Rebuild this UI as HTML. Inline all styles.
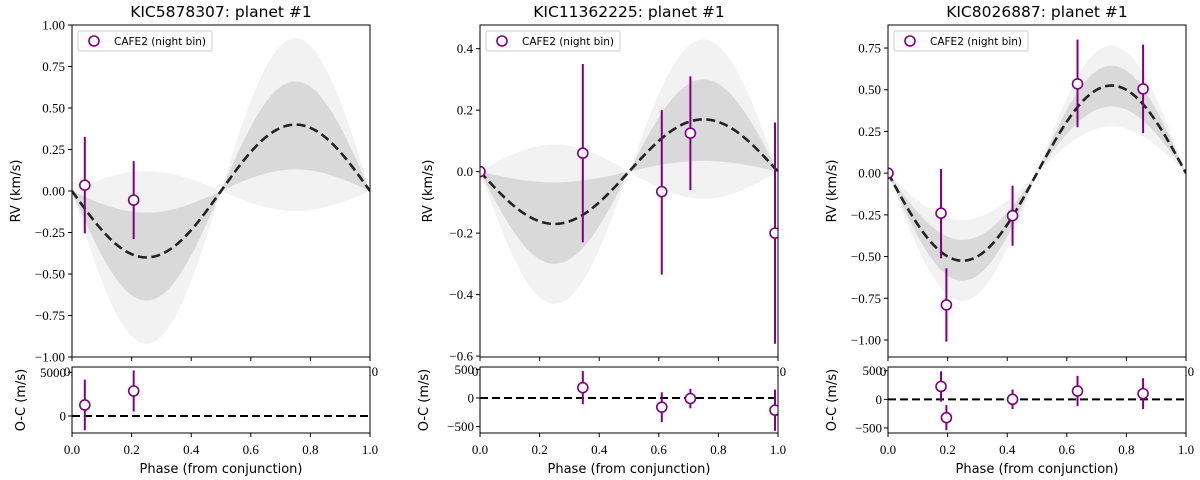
<!DOCTYPE html>
<html><head><meta charset="utf-8">
<style>
html,body{margin:0;padding:0;background:#fff;}
svg{display:block;}
.tick{font-family:"Liberation Serif","DejaVu Serif",serif;font-size:13px;fill:#000;}
.lab{font-family:"DejaVu Sans","Liberation Sans",sans-serif;font-size:13px;fill:#000;}
.title{font-family:"DejaVu Sans","Liberation Sans",sans-serif;font-size:15.5px;fill:#000;}
.leg{font-family:"DejaVu Sans","Liberation Sans",sans-serif;font-size:10.5px;fill:#000;}
</style></head>
<body>
<svg id="fig" width="1200" height="480" viewBox="0 0 1200 480" xmlns="http://www.w3.org/2000/svg"></svg>
<script>
// ---- data ----
const titles = ["KIC5878307: planet #1", "KIC11362225: planet #1", "KIC8026887: planet #1"];
const modelK = [0.40, 0.17, 0.525];
const band1Lo = [0.13, 0.035, 0.40];
const band1Hi = [0.66, 0.30, 0.645];
const band2Lo = [-0.12, -0.088, 0.28];
const band2Hi = [0.92, 0.43, 0.765];
const rvPhase = [[0.043, 0.207], [0.0, 0.345, 0.61, 0.706, 0.99], [0.0, 0.178, 0.196, 0.418, 0.636, 0.856]];
const rvValue = [[0.035, -0.055], [0.0, 0.06, -0.065, 0.125, -0.2], [0.0, -0.24, -0.79, -0.255, 0.535, 0.505]];
const rvErrUp = [[0.29, 0.235], [0, 0.29, 0.265, 0.185, 0.36], [0, 0.265, 0.22, 0.18, 0.265, 0.265]];
const rvErrDn = [[0.29, 0.235], [0, 0.29, 0.27, 0.185, 0.36], [0, 0.27, 0.22, 0.18, 0.26, 0.265]];
const resPhase = [[0.043, 0.207], [0.345, 0.61, 0.706, 0.99], [0.178, 0.196, 0.418, 0.636, 0.856]];
const resValue = [[1260, 2860], [180, -160, -10, -213], [225, -320, 0, 145, 100]];
const resErr = [[2900, 2350], [290, 260, 170, 360], [265, 220, 170, 265, 270]];
const yRange = [[-1.0, 1.0], [-0.603, 0.477], [-1.102, 0.888]];
const yTicks = [[-1, -0.75, -0.5, -0.25, 0, 0.25, 0.5, 0.75, 1], [-0.6, -0.4, -0.2, 0, 0.2, 0.4], [-1, -0.75, -0.5, -0.25, 0, 0.25, 0.5, 0.75]];
const yTickLabels = [["\u22121.00","\u22120.75","\u22120.50","\u22120.25","0.00","0.25","0.50","0.75","1.00"],
  ["\u22120.6","\u22120.4","\u22120.2","0.0","0.2","0.4"],
  ["\u22121.00","\u22120.75","\u22120.50","\u22120.25","0.00","0.25","0.50","0.75"]];
const resRange = [[-1950, 5610], [-611, 541], [-588, 565]];
const resTicks = [[0, 5000], [-500, 0, 500], [-500, 0, 500]];
const resTickLabels = [["0","5000"], ["\u2212500","0","500"], ["\u2212500","0","500"]];
const xTicks = [0, 0.2, 0.4, 0.6, 0.8, 1.0];
const xTickLabels = ["0.0","0.2","0.4","0.6","0.8","1.0"];

// ---- layout ----
const NS = "http://www.w3.org/2000/svg";
const svg = document.getElementById("fig");
const lefts = [72, 480, 888], W = 298;
const mainTop = 25, mainBot = 357, resTop = 367, resBot = 433;
const PURPLE = "#800080";

function mk(tag, attrs, parent) {
  const e = document.createElementNS(NS, tag);
  for (const k in attrs) e.setAttribute(k, attrs[k]);
  (parent || svg).appendChild(e);
  return e;
}

for (let p = 0; p < 3; p++) {
  const L = lefts[p], R = L + W;
  const g = mk("g", {});
  
  
  const xs = v => L + v * W;
  const ys = v => mainBot - (v - yRange[p][0]) / (yRange[p][1] - yRange[p][0]) * (mainBot - mainTop);
  const rs = v => resBot - (v - resRange[p][0]) / (resRange[p][1] - resRange[p][0]) * (resBot - resTop);

  const t = mk("text", {x: L + W / 2, y: 17, "text-anchor": "middle", class: "title"}, g);
  t.textContent = titles[p];
  
  

  const cid = "clip" + p;
  const cp = mk("clipPath", {id: cid}, g);
  mk("rect", {x: L, y: mainTop, width: W, height: mainBot - mainTop}, cp);
  const plot = mk("g", {"clip-path": "url(#" + cid + ")"}, g);

  function band(lo, hi, fill, name) {
    let up = [], dn = [];
    for (let i = 0; i <= 200; i++) {
      const ph = i / 200, s = -Math.sin(2 * Math.PI * ph);
      const a = lo * s, b = hi * s;
      up.push(xs(ph) + "," + ys(Math.max(a, b)));
      dn.unshift(xs(ph) + "," + ys(Math.min(a, b)));
    }
    const e = mk("polygon", {points: up.concat(dn).join(" "), fill: fill}, plot);
    
    
  }
  band(band2Lo[p], band2Hi[p], "#f2f2f2", "band-2sigma");
  band(band1Lo[p], band1Hi[p], "#d9d9d9", "band-1sigma");

  let pts = [];
  for (let i = 0; i <= 200; i++) { const ph = i / 200; pts.push(xs(ph) + "," + ys(-modelK[p] * Math.sin(2 * Math.PI * ph))); }
  const m = mk("polyline", {points: pts.join(" "), fill: "none", stroke: "#222", "stroke-width": 2.6, "stroke-dasharray": "9,4.5"}, plot);
  
  

  const ptsG = mk("g", {}, plot);
  
  
  for (let i = 0; i < rvPhase[p].length; i++) {
    const x = xs(rvPhase[p][i]), v = rvValue[p][i];
    if (rvErrUp[p][i] > 0) {
      const el = mk("line", {x1: x, x2: x, y1: ys(v + rvErrUp[p][i]), y2: ys(v - rvErrDn[p][i]), stroke: PURPLE, "stroke-width": 2}, ptsG);
      
      
    }
    const c = mk("circle", {cx: x, cy: ys(v), r: 5, fill: "#fff", stroke: PURPLE, "stroke-width": 1.6}, ptsG);
    
    
  }

  mk("rect", {x: L, y: mainTop, width: W, height: mainBot - mainTop, fill: "none", stroke: "#000", "stroke-width": 1}, g);
  for (let i = 0; i < yTicks[p].length; i++) {
    const y = ys(yTicks[p][i]);
    mk("line", {x1: L - 4, x2: L, y1: y, y2: y, stroke: "#000"}, g);
    const tl = mk("text", {x: L - 7, y: y + 4.5, "text-anchor": "end", class: "tick"}, g);
    tl.textContent = yTickLabels[p][i];
  }
  for (let i = 0; i < xTicks.length; i++) {
    const x = xs(xTicks[i]);
    mk("line", {x1: x, x2: x, y1: mainBot, y2: mainBot + 4, stroke: "#000"}, g);
    const tl = mk("text", {x: x, y: 376, "text-anchor": "middle", class: "tick"}, g);
    tl.textContent = xTickLabels[i];
  }
  const yl = mk("text", {x: 0, y: 0, "text-anchor": "middle", class: "lab", transform: "translate(" + (L - (p === 1 ? 48 : 52)) + "," + ((mainTop + mainBot) / 2) + ") rotate(-90)"}, g);
  yl.textContent = "RV (km/s)";
  
  

  const lg = mk("g", {}, g);
  
  
  mk("rect", {x: L + 6, y: 31, width: 134, height: 20, rx: 2, fill: "#fff", "fill-opacity": 0.8, stroke: "#ccc"}, lg);
  mk("circle", {cx: L + 22, cy: 41, r: 5, fill: "#fff", stroke: PURPLE, "stroke-width": 1.6}, lg);
  const lt = mk("text", {x: L + 42, y: 45, class: "leg"}, lg);
  lt.textContent = "CAFE2 (night bin)";

  const rg = mk("g", {}, g);
  
  
  mk("rect", {x: L, y: resTop, width: W, height: resBot - resTop, fill: "#fff"}, rg);
  const rcid = "rclip" + p;
  const rcp = mk("clipPath", {id: rcid}, rg);
  mk("rect", {x: L, y: resTop, width: W, height: resBot - resTop}, rcp);
  const rplot = mk("g", {"clip-path": "url(#" + rcid + ")"}, rg);
  mk("line", {x1: L, x2: R, y1: rs(0), y2: rs(0), stroke: "#000", "stroke-width": 2, "stroke-dasharray": "8,4"}, rplot);
  for (let i = 0; i < resPhase[p].length; i++) {
    const x = xs(resPhase[p][i]), v = resValue[p][i];
    const el = mk("line", {x1: x, x2: x, y1: rs(v + resErr[p][i]), y2: rs(v - resErr[p][i]), stroke: PURPLE, "stroke-width": 2}, rplot);
    
    
    const c = mk("circle", {cx: x, cy: rs(v), r: 5, fill: "#fff", stroke: PURPLE, "stroke-width": 1.6}, rplot);
    
    
  }
  mk("rect", {x: L, y: resTop, width: W, height: resBot - resTop, fill: "none", stroke: "#000"}, rg);
  for (let i = 0; i < resTicks[p].length; i++) {
    const y = rs(resTicks[p][i]);
    mk("line", {x1: L - 4, x2: L, y1: y, y2: y, stroke: "#000"}, rg);
    const tl = mk("text", {x: L - 6, y: y + 4.5, "text-anchor": "end", class: "tick"}, rg);
    tl.textContent = resTickLabels[p][i];
  }
  for (let i = 0; i < xTicks.length; i++) {
    const x = xs(xTicks[i]);
    mk("line", {x1: x, x2: x, y1: resBot, y2: resBot + 4, stroke: "#000"}, rg);
    const tl = mk("text", {x: x, y: 454, "text-anchor": "middle", class: "tick"}, rg);
    tl.textContent = xTickLabels[i];
  }
  const rl = mk("text", {x: 0, y: 0, "text-anchor": "middle", class: "lab", transform: "translate(" + (L - (p === 0 ? 47 : 52)) + "," + ((resTop + resBot) / 2) + ") rotate(-90)"}, rg);
  rl.textContent = "O-C (m/s)";
  
  
  const xl = mk("text", {x: L + W / 2, y: 473, "text-anchor": "middle", class: "lab"}, rg);
  xl.textContent = "Phase (from conjunction)";
  
  
}
</script>
</body></html>
